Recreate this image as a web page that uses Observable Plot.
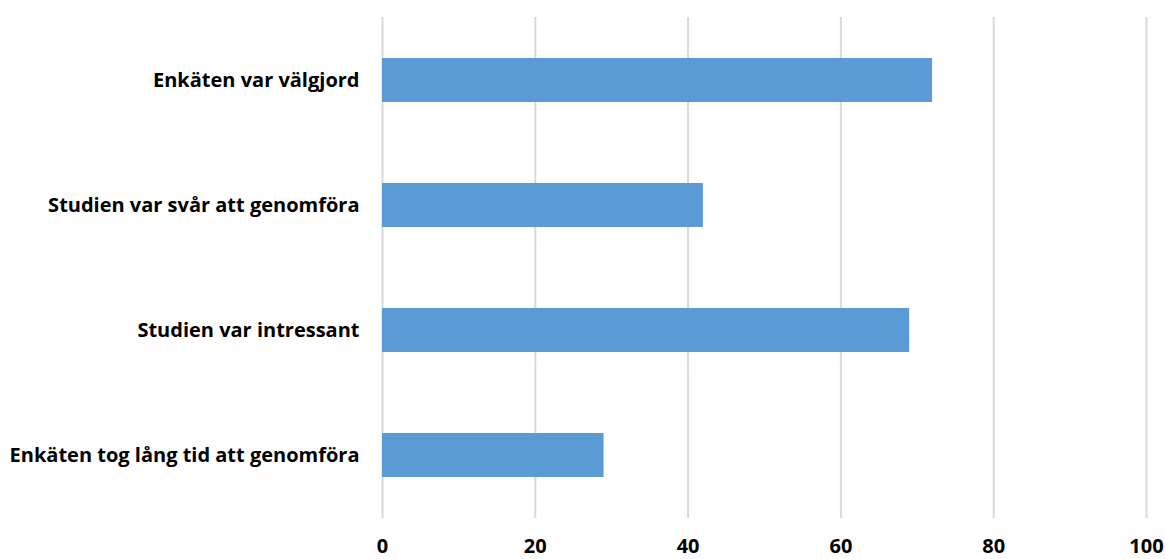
<!DOCTYPE html>
<html>
<head>
<meta charset="utf-8">
<script src="https://cdn.jsdelivr.net/npm/d3@7"></script>
<script src="https://cdn.jsdelivr.net/npm/@observablehq/plot@0.6"></script>
<style>
  html, body { margin: 0; padding: 0; background: #fff; }
  #chart svg { display: block; }
</style>
</head>
<body>
<div id="chart"></div>
<script>
// Survey statements (top to bottom) and share of respondents agreeing
const statements = [
  "Enkäten var välgjord",
  "Studien var svår att genomföra",
  "Studien var intressant",
  "Enkäten tog lång tid att genomföra"
];
const values = [72, 42, 69, 29];
const xTicks = [0, 20, 40, 60, 80, 100];

const rows = statements.map((s, i) => ({statement: s, value: values[i]}));

const font = "'Open Sans', Lato, sans-serif";

const chart = Plot.plot({
  width: 1165,
  height: 559,
  marginLeft: 382,
  marginRight: 19,
  marginTop: 17,
  marginBottom: 41,
  style: {fontFamily: font, fontSize: "20px", fontWeight: "bold", color: "#000", background: "#fff"},
  x: {domain: [0, 100], ticks: xTicks, label: null},
  y: {domain: statements, paddingInner: 0.65, paddingOuter: 0.325, label: null},
  marks: [
    Plot.gridX(xTicks, {stroke: "#d9d9d9", strokeOpacity: 1, strokeWidth: 2}),
    Plot.barX(rows, {x: "value", y: "statement", fill: "#5b9bd5"}),
    Plot.axisX({ticks: xTicks, tickSize: 0, tickPadding: 20, fontSize: 20, fontWeight: "bold", label: null}),
    Plot.axisY({tickSize: 0, tickPadding: 23, fontSize: 20, fontWeight: "bold", label: null})
  ]
});

document.getElementById("chart").appendChild(chart);
</script>
</body>
</html>
